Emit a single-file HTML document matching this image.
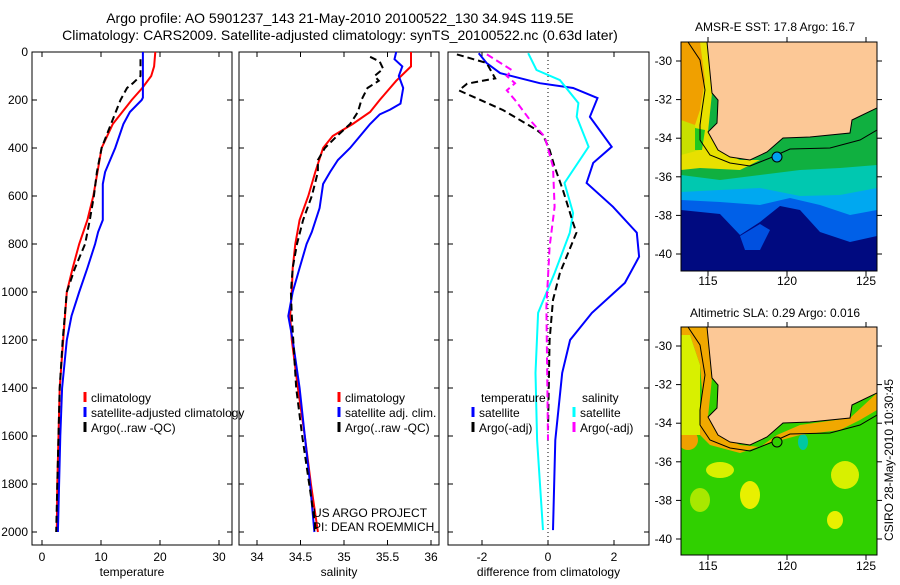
<!DOCTYPE html>
<html><head><meta charset="utf-8"><style>
body{margin:0;background:#fff;width:900px;height:580px;overflow:hidden}
svg{font-family:"Liberation Sans",sans-serif}
text{fill:#000}
</style></head><body>
<svg id="s" width="900" height="580" viewBox="0 0 900 580">
<text x="340" y="23" font-size="14" text-anchor="middle">Argo profile: AO 5901237_143 21-May-2010 20100522_130 34.94S 119.5E</text>
<text x="340" y="40" font-size="14" text-anchor="middle">Climatology: CARS2009. Satellite-adjusted climatology: synTS_20100522.nc (0.63d later)</text>

<!-- MAP 1 -->
<g>
<defs><clipPath id="mc"><rect x="681" y="42" width="196" height="229"/></clipPath>
<g id="coast">
<polygon fill="#fcc896" points="707,42 712,93 718,100 717,123 708,132 718,150 730,157 750,160 767,152 783,138 810,137 850,133 852,120 877,108 877,42"/>
<polyline fill="none" stroke="#000" stroke-width="1" points="707,42 712,93 718,100 717,123 708,132 718,150 730,157 750,160 767,152 783,138 810,137 850,133 852,120 877,108"/>
<polyline fill="none" stroke="#000" stroke-width="1" points="688,42 700,60 705,90 702,110 700,125 700,140 710,155 730,163 750,166 770,158 790,149 830,148 860,140 877,130"/>
</g></defs>
<g clip-path="url(#mc)">
<rect x="681" y="42" width="196" height="229" fill="#10b040"/>
<polygon fill="#00c8b0" points="681,175 720,180 760,175 800,170 840,168 877,165 877,271 681,271"/>
<polygon fill="#00a8f0" points="681,192 720,190 760,188 800,196 840,195 877,188 877,271 681,271"/>
<polygon fill="#0060e8" points="681,200 720,202 760,205 790,198 820,205 850,215 877,210 877,271 681,271"/>
<polygon fill="#000a80" points="681,210 720,214 740,235 760,222 780,206 800,210 820,232 850,242 877,236 877,271 681,271"/>
<polygon fill="#0050e0" points="740,236 760,224 770,230 760,250 745,250"/>
<polygon fill="#e8e000" points="681,42 707,42 712,93 708,132 718,150 740,160 760,160 740,170 700,168 681,170"/>
<polygon fill="#f0a000" points="681,42 700,42 705,80 700,110 690,140 681,150"/>
<polygon fill="#c8e000" points="681,120 695,125 700,150 681,155"/>
<polygon fill="#20c820" points="695,128 705,130 702,150 695,150"/>
<use href="#coast"/>
<circle cx="777" cy="157" r="5" fill="#00a0f0" stroke="#000" stroke-width="1"/>
</g>
<rect x="681" y="42" width="196" height="229" fill="none" stroke="#000"/>
<text x="775" y="31" font-size="12" text-anchor="middle">AMSR-E SST: 17.8 Argo: 16.7</text>
</g>

<!-- MAP 2 -->
<g>
<defs><clipPath id="mc2"><rect x="681" y="327" width="196" height="228"/></clipPath></defs>
<g clip-path="url(#mc2)">
<rect x="681" y="327" width="196" height="228" fill="#30d000"/>
<g transform="translate(0,285)">
<ellipse cx="688" cy="155" rx="10" ry="10" fill="#f0a000"/>
<ellipse cx="720" cy="185" rx="14" ry="8" fill="#d8f000"/>
<ellipse cx="750" cy="210" rx="10" ry="14" fill="#e8f000"/>
<ellipse cx="845" cy="190" rx="14" ry="14" fill="#d8f000"/>
<ellipse cx="835" cy="235" rx="8" ry="9" fill="#e8f000"/>
<ellipse cx="700" cy="215" rx="10" ry="12" fill="#a8e800"/>
<ellipse cx="803" cy="157" rx="5" ry="8" fill="#00c8a0"/>
<ellipse cx="690" cy="75" rx="6" ry="20" fill="#20b840"/>
<polygon fill="#f0a800" points="681,42 707,42 712,93 708,132 718,150 740,160 760,162 777,150 800,140 850,133 877,108 877,125 860,135 840,145 800,150 770,158 740,168 710,160 700,150 700,130 702,105 700,80 690,50 681,50"/>
<polygon fill="#d8f000" points="681,50 690,50 700,80 700,130 700,150 681,150"/>
<use href="#coast"/>
<circle cx="777" cy="157" r="5" fill="#30d000" stroke="#000" stroke-width="1"/>
</g></g>
<rect x="681" y="327" width="196" height="228" fill="none" stroke="#000"/>
<text x="775" y="317" font-size="12" text-anchor="middle">Altimetric SLA: 0.29 Argo: 0.016</text>
</g>
<text transform="translate(893,460) rotate(-90)" font-size="12" text-anchor="middle">CSIRO 28-May-2010 10:30:45</text>
<g id="plots"></g>
</svg>
<script>
// ---- data ----
const depthTick=[0,200,400,600,800,1000,1200,1400,1600,1800,2000];
const tClimD=[0,60,100,150,200,300,400,500,600,700,800,900,1000,1200,1400,1600,1800,2000];
const tClimV=[19.2,19,18.5,17,15.2,12,10.1,9.4,8.7,7.7,6.3,5.2,4.2,3.6,3.0,2.8,2.6,2.5];
const tSatD=[0,190,200,250,300,400,500,550,700,750,800,900,1000,1100,1200,1400,1600,2000];
const tSatV=[17.1,17.1,16.9,14.9,13.8,12.4,10.7,10.3,10.3,9.5,9,7.7,6.3,5,4.2,3.4,3.1,2.7];
const tArgD=[30,100,130,150,200,300,400,500,600,700,800,900,1000,1200,1400,1600,1800,2000];
const tArgV=[16.7,16.7,15.4,14.4,13.3,11.7,10.1,9.3,8.8,8.1,7.3,5.6,4.2,3.5,3.0,2.8,2.6,2.4];
const sClimD=[0,60,120,200,250,300,350,400,500,600,700,800,900,1000,1100,1200,1400,1600,1800,2000];
const sClimV=[35.77,35.77,35.6,35.41,35.3,35.1,34.87,34.76,34.67,34.59,34.49,34.44,34.41,34.4,34.38,34.4,34.47,34.55,34.62,34.7];
const sSatD=[0,30,60,100,150,215,240,260,300,400,450,500,550,650,750,800,900,1000,1100,1200,1400,1600,1800,2000];
const sSatV=[35.6,35.58,35.67,35.63,35.68,35.65,35.53,35.41,35.3,35.07,34.93,34.84,34.76,34.72,34.63,34.57,34.49,34.41,34.36,34.41,34.49,34.55,34.61,34.66];
const sArgD=[20,40,70,100,120,150,200,250,300,350,400,450,500,600,700,800,900,1000,1100,1400,1600,2000];
const sArgV=[35.3,35.41,35.45,35.35,35.4,35.27,35.2,35.16,35.07,34.92,34.78,34.7,34.7,34.63,34.53,34.46,34.41,34.39,34.4,34.45,34.52,34.68];
const dTsD=[5,46,88,130,150,192,270,395,462,546,645,753,853,962,1087,1200,1337,1617,1992];
const dTsV=[-2.1,-1.86,-1.45,-0.25,0.76,1.5,1.27,1.93,1.37,1.17,1.97,2.69,2.76,2.33,1.33,0.67,0.43,0.22,0.15];
const dTaD=[10,46,110,132,160,242,325,346,408,478,575,712,753,921,1033,1200,1575];
const dTaV=[-2.76,-1.86,-1.6,-2.45,-2.7,-1.36,-0.34,-0.15,0.05,0.2,0.45,0.76,0.86,0.36,0.15,0.05,0];
const dSsD=[5,75,117,213,270,395,546,671,753,921,1087,1337,1617,1992];
const dSsV=[-0.6,-0.35,0.36,0.92,0.87,1.23,0.5,0.76,0.66,0.2,-0.3,-0.38,-0.33,-0.15];
const dSaD=[10,75,100,130,160,200,283,353,478,645,812,1062,1617];
const dSaV=[-1.85,-1.1,-1.25,-1.0,-1.25,-1.0,-0.55,-0.1,0.15,0.2,0.05,-0.05,0];
const mapLonTicks=[115,120,125];
const mapLatTicks=[-30,-32,-34,-36,-38,-40];

const NS='http://www.w3.org/2000/svg';
const plots=document.getElementById('plots');
function mk(tag,at,parent){const e=document.createElementNS(NS,tag);for(const k in at)e.setAttribute(k,at[k]);(parent||plots).appendChild(e);return e;}
const y=d=>52+d*0.24;
const Y0=52,Y1=545;
const panels=[
 {x0:32,x1:232,sx:v=>42+v*5.9,ticks:[0,10,20,30],lbl:'temperature',name:'temperature-panel'},
 {x0:239,x1:439,sx:v=>257+(v-34)*87,ticks:[34,34.5,35,35.5,36],lbl:'salinity',name:'salinity-panel'},
 {x0:448,x1:649,sx:v=>548+v*33,ticks:[-2,0,2],lbl:'difference from climatology',name:'difference-panel'}];
panels.forEach((p,i)=>{
 const g=mk('g',{});
 
 
 mk('rect',{x:p.x0,y:Y0,width:p.x1-p.x0,height:Y1-Y0,fill:'none',stroke:'#000'},g);
 p.ticks.forEach(t=>{const x=p.sx(t);
  mk('line',{x1:x,x2:x,y1:Y1,y2:Y1-5,stroke:'#000'},g);mk('line',{x1:x,x2:x,y1:Y0,y2:Y0+5,stroke:'#000'},g);
  const tx=mk('text',{x:x,y:Y1+16,'font-size':12,'text-anchor':'middle'},g);tx.textContent=t;
  
  });
 depthTick.forEach(d=>{mk('line',{x1:p.x0,x2:p.x0+5,y1:y(d),y2:y(d),stroke:'#000'},g);mk('line',{x1:p.x1,x2:p.x1-5,y1:y(d),y2:y(d),stroke:'#000'},g);
  if(i==0){const tx=mk('text',{x:28,y:y(d)+4,'font-size':12,'text-anchor':'end'},g);tx.textContent=d;
  
  }});
 const xl=mk('text',{x:(p.x0+p.x1)/2,y:576,'font-size':12,'text-anchor':'middle'},g);xl.textContent=p.lbl;
 
 
});
function line(D,V,sx,col,dash,name){
 const pts=D.map((d,i)=>sx(V[i]).toFixed(1)+','+y(d).toFixed(1)).join(' ');
 const e=mk('polyline',{points:pts,fill:'none',stroke:col,'stroke-width':2,'stroke-dasharray':dash||'none'});
 
 
}
const P=panels;
mk('line',{x1:548,x2:548,y1:Y0,y2:Y1,stroke:'#000','stroke-dasharray':'1,3'});
line(tClimD,tClimV,P[0].sx,'#f00',null,'temp-climatology-line');
line(tSatD,tSatV,P[0].sx,'#00f',null,'temp-satellite-line');
line(tArgD,tArgV,P[0].sx,'#000','7,4','temp-argo-line');
line(sClimD,sClimV,P[1].sx,'#f00',null,'sal-climatology-line');
line(sSatD,sSatV,P[1].sx,'#00f',null,'sal-satellite-line');
line(sArgD,sArgV,P[1].sx,'#000','7,4','sal-argo-line');
line(dTsD,dTsV,P[2].sx,'#00f',null,'temp-diff-satellite-line');
line(dSsD,dSsV,P[2].sx,'#0ff',null,'sal-diff-satellite-line');
line(dTaD,dTaV,P[2].sx,'#000','7,4','temp-diff-argo-line');
line(dSaD,dSaV,P[2].sx,'#f0f','7,4','sal-diff-argo-line');
function leg(x,yy,col,txt,name){
 if(col)mk('line',{x1:x,x2:x,y1:yy-10,y2:yy,stroke:col,'stroke-width':3});
 const t=mk('text',{x:x+6,y:yy,'font-size':12});t.textContent=txt;
 
 
}
leg(85,402,'#f00','climatology','legend-climatology');
leg(85,417,'#00f','satellite-adjusted climatology','legend-satellite');
leg(85,432,'#000','Argo(..raw -QC)','legend-argo');
leg(339,402,'#f00','climatology','legend-sal-climatology');
leg(339,417,'#00f','satellite adj. clim.','legend-sal-satellite');
leg(339,432,'#000','Argo(..raw -QC)','legend-sal-argo');
leg(475,402,null,'temperature','legend-temperature-head');
leg(473,417,'#00f','satellite','legend-diff-t-sat');
leg(473,432,'#000','Argo(-adj)','legend-diff-t-argo');
leg(576,402,null,'salinity','legend-salinity-head');
leg(574,417,'#0ff','satellite','legend-diff-s-sat');
leg(574,432,'#f0f','Argo(-adj)','legend-diff-s-argo');
let t=mk('text',{x:313,y:517,'font-size':12});t.textContent='US ARGO PROJECT';


t=mk('text',{x:313,y:531,'font-size':12});t.textContent='PI: DEAN ROEMMICH';


// map axes
const mx=lon=>708+(lon-115)*15.8;
[[61,42,271,285],[346,327,555,570]].forEach(([lat30,top,bot,ly])=>{
 const my=lat=>lat30+(-30-lat)*19.3;
 mapLonTicks.forEach(l=>{const x=mx(l);mk('line',{x1:x,x2:x,y1:bot,y2:bot+5,stroke:'#000'});mk('line',{x1:x,x2:x,y1:top,y2:top-5,stroke:'#000'});
  const tx=mk('text',{x:x,y:ly,'font-size':12,'text-anchor':'middle'});tx.textContent=l;
  
  });
 mapLatTicks.forEach(l=>{const yy=my(l);mk('line',{x1:676,x2:681,y1:yy,y2:yy,stroke:'#000'});mk('line',{x1:877,x2:882,y1:yy,y2:yy,stroke:'#000'});
  const tx=mk('text',{x:672,y:yy+4,'font-size':12,'text-anchor':'end'});tx.textContent=l;
  
  });
});
</script>
</body></html>
